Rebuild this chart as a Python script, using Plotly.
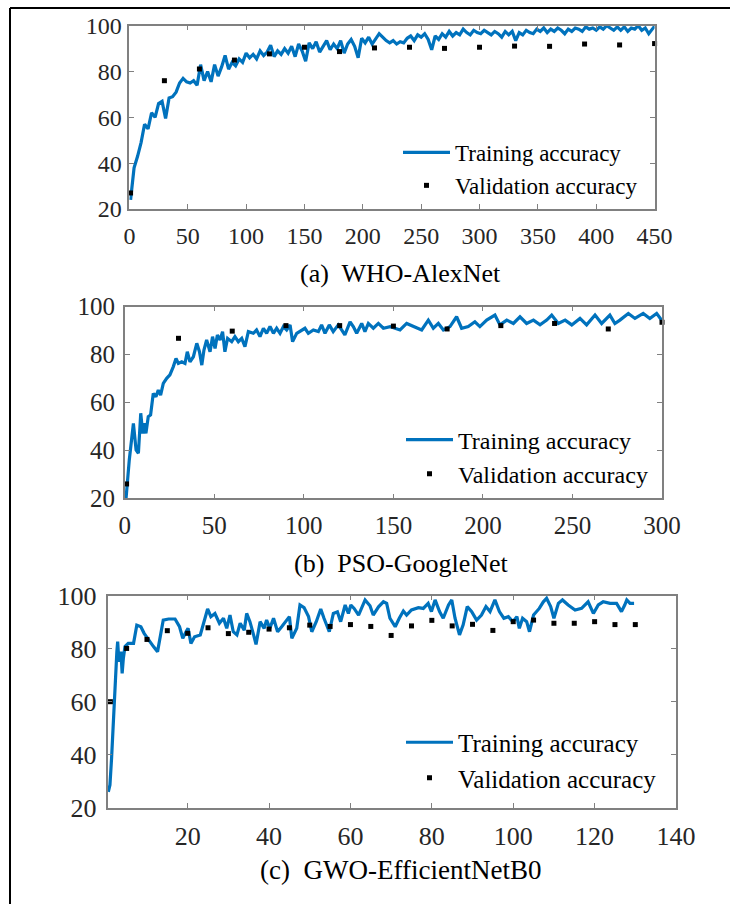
import plotly.graph_objects as go

# ---------------- Data ----------------
# (a) WHO-AlexNet
a_train_iter = list(range(1, 449, 3)) + [450]
a_train_acc = [
    24, 38, 43, 49, 57, 55, 62, 60, 66, 67,
    59.5, 68.5, 69, 71, 75, 77, 75.5, 75, 76, 74,
    83, 76, 80, 75.5, 83, 78, 82, 87, 81, 84,
    82.5, 85.5, 84, 88, 86, 87.5, 85.5, 89, 87, 88.5,
    91.5, 86.5, 89, 87.5, 90, 88, 91, 86.5, 92, 89,
    84.5, 92.5, 90, 93, 88.5, 91, 93.5, 89.5, 92, 90,
    93.5, 88, 92, 94, 91, 86, 94.5, 92.5, 95, 92,
    94.5, 96.5, 95, 93.5, 92.5, 93.5, 92, 93, 92.5, 94.5,
    95.5, 93.5, 96, 95, 96.5, 94, 89.5, 95.5, 94, 96.5,
    95, 97.5, 95.5, 97, 96, 98.5, 97, 96, 98, 97,
    96.5, 98, 97, 96, 97.5, 96.5, 95, 97.5, 96, 97.5,
    93.5, 97, 96, 98, 97, 96.5, 98.5, 97.5, 99, 97,
    98.5, 97.5, 99, 98, 96.5, 98.5, 97.5, 99, 98.5, 97.5,
    99.5, 98.5, 99, 98, 99.5, 98.5, 100, 99, 98, 99.5,
    98, 99.5, 97.5, 99, 98.5, 100, 98, 99, 96.5, 98.5,
    99.8,
]
a_val_iter = [1, 30, 60, 90, 120, 150, 180, 210, 240, 270, 300, 330, 360, 390, 420, 450]
a_val_acc = [27, 76, 81.1, 85, 87.7, 90.6, 88.7, 90.3, 90.6, 90.1, 90.6, 91.1, 91, 92, 91.6, 92.2]

# (b) PSO-GoogleNet
b_train_iter = [
    0.7, 2.5, 4.8, 6.3, 7.6, 8.9, 10, 10.9, 11.8, 13.1,
    14.4, 15.9, 17.4, 18.7, 20, 21.5, 23.4, 25.2, 27.1, 28.6,
    29.9, 31.8, 33.6, 34.9, 36.4, 38.3, 40.2, 41.7, 43, 44.2,
    45.7, 47.6, 49, 50.4, 51.7, 53.2, 54.6, 55.9, 57.4, 59.7,
    61.5, 63.4, 65.3, 67.1, 69, 71.8, 73.6, 75.5, 77.4, 79.2,
    81.1, 83, 84.8, 86.7, 88.6, 90.4, 92.3, 93.7, 96, 97.8,
    100.6, 102.5, 105.3, 108.1, 109.9, 111.8, 114.2, 116.4, 119.2, 121.1,
    122.9, 125.8, 127.6, 129.5, 132.3, 134.1, 136, 138.8, 141.6, 144.4,
    148.1, 150.9, 153.7, 157.4, 161.2, 165.8, 169.5, 172.3, 175.1, 177.9,
    181.6, 185.3, 188.1, 191.8, 195.5, 198.3, 202.1, 206.7, 209.5, 213.3,
    217, 220.7, 224.4, 228.2, 231.9, 235.6, 238.4, 242.1, 245.9, 249.6,
    254.2, 257.9, 262.6, 266.3, 270.9, 273.7, 276.5, 281.2, 284.9, 289.5,
    293.2, 297, 299.7,
]
b_train_acc = [
    20, 36, 51.3, 40.2, 38.8, 55.5, 47.1, 51.3, 47.1, 54.1,
    54.8, 63.8, 62.4, 65.2, 63.1, 68, 70.1, 71.5, 75, 78.4,
    76.3, 77, 76.3, 81.2, 77, 79.1, 84.7, 81.2, 75.6, 81.9,
    86.1, 81.2, 87.5, 82.6, 88.2, 86.1, 89.6, 81.2, 86.8, 85.4,
    87.5, 85.4, 86.8, 83.3, 89.6, 88.9, 90.3, 87.5, 91, 88.9,
    91.7, 88.9, 91, 88.9, 91.7, 90.3, 92.4, 85.4, 88.9, 89.6,
    91, 88.9, 90.3, 89.6, 92.4, 88.9, 92.4, 89.6, 92.4, 90.3,
    88.2, 93.7, 91.7, 88.9, 93, 89.6, 93, 91, 93, 91,
    91.7, 91, 90.3, 93, 91.7, 90.3, 94.4, 91, 93, 90.3,
    91.7, 95.8, 91, 91.7, 93.7, 91.7, 94.4, 96.5, 92.4, 94.4,
    93, 95.8, 93, 94.4, 92.4, 94.4, 96.5, 93, 94.4, 92.4,
    95.1, 92.4, 96.5, 93, 96.5, 93, 94.4, 97.2, 95.1, 97.2,
    95.1, 97.2, 94.4,
]
b_val_iter = [1, 30, 60, 90, 120, 150, 180, 210, 240, 270, 300]
b_val_acc = [26, 86.8, 89.8, 92.1, 92.1, 91.9, 90.7, 92.1, 93, 90.7, 93.5]

# (c) GWO-EfficientNetB0
c_train_iter = [
    0.5, 0.9, 1.3, 1.6, 1.9, 2.2, 2.6, 2.8, 3.1, 3.6,
    3.9, 4.2, 4.6, 5.4, 6.7, 7.5, 8.5, 9.3, 10.4, 11.6,
    12.6, 13.2, 14.0, 15.3, 16.9, 18.0, 18.8, 19.6, 20.1, 20.8,
    21.7, 23.1, 23.9, 24.9, 25.7, 26.7, 27.8, 28.8, 29.6, 30.4,
    31.2, 32.1, 32.9, 33.9, 34.5, 35.3, 36.2, 36.8, 37.8, 38.8,
    39.4, 40.2, 41.1, 42.1, 43.1, 44.3, 45.0, 45.6, 46.8, 47.6,
    48.6, 49.7, 50.5, 51.6, 52.7, 53.5, 54.8, 55.8, 56.8, 57.6,
    58.7, 59.5, 60.1, 60.9, 62.0, 63.6, 64.8, 65.6, 66.9, 68.1,
    68.9, 69.7, 71.0, 72.0, 73.0, 73.8, 75.0, 76.7, 77.9, 79.1,
    79.9, 80.8, 81.9, 82.8, 84.1, 84.9, 85.7, 86.8, 87.7, 88.7,
    89.8, 91.0, 92.2, 93.3, 94.3, 95.5, 96.6, 97.7, 98.8, 99.9,
    100.9, 101.5, 102.3, 103.3, 104.0, 105.0, 106.4, 107.4, 108.2, 109.2,
    110.0, 111.1, 112.1, 113.5, 115.2, 116.8, 118.4, 119.7, 120.9, 122.1,
    123.8, 125.4, 126.6, 127.4, 127.9, 128.7, 129.7,
]
c_train_acc = [
    26, 28.6, 38.6, 48.7, 60, 67.6, 78.9, 82.7, 75.1, 78.9,
    70.7, 76.4, 80.8, 82, 82, 88.9, 88.3, 85.8, 83.3, 80.8,
    78.9, 83.9, 90.8, 91.2, 91.2, 88.3, 83.9, 86.4, 87.7, 82,
    84.5, 85.2, 89.6, 95, 92.1, 93.3, 89.6, 91.5, 87.7, 92.7,
    86.4, 85.2, 89.6, 87, 93.3, 90.2, 85.2, 81.6, 90.2, 87.7,
    90.8, 87.7, 91.5, 86.4, 88.3, 90.8, 92.1, 83.9, 87.7, 96.5,
    95.5, 92.1, 86.4, 90.2, 95, 91.5, 86.4, 93.3, 93.9, 90.2,
    96.5, 93.3, 96.5, 95.2, 92.7, 98.4, 96.2, 92.7, 95.8, 97.7,
    97.1, 91.5, 88.3, 91.5, 94.2, 92.7, 94.6, 95.5, 95.2, 97.1,
    94, 98.4, 94, 91.5, 96.5, 98.4, 91.5, 85.2, 89, 95.9,
    94, 90.8, 92.7, 95.9, 94, 98.4, 94, 91.5, 92.1, 90.2,
    92.1, 87.7, 91.5, 90.2, 86.4, 92.7, 95.2, 97.7, 99, 95.9,
    91.5, 97.1, 98.4, 96.5, 94.6, 95.2, 97.7, 93.3, 96.5, 97.7,
    97.1, 97.1, 94, 96.5, 98.4, 97.1, 97.1,
]
c_val_iter = [1, 5, 10, 15, 20, 25, 30, 35, 40, 45, 50, 55, 60, 65, 70,
              75, 80, 85, 90, 95, 100, 105, 110, 115, 120, 125, 130]
c_val_acc = [60, 80.1, 83.5, 86.8, 85.8, 87.9, 85.7, 86.2, 87.4, 87.9, 88.9, 88.4, 89.1, 88.4, 85,
             88.6, 90.7, 88.6, 89.2, 86.9, 90.2, 90.8, 89.6, 89.6, 90.2, 89.1, 89.1]

titles = ["(a)  WHO-AlexNet", "(b)  PSO-GoogleNet", "(c)  GWO-EfficientNetB0"]
y_ticks = [20, 40, 60, 80, 100]
a_x_ticks = [0, 50, 100, 150, 200, 250, 300, 350, 400, 450]
b_x_ticks = [0, 50, 100, 150, 200, 250, 300]
c_x_ticks = [20, 40, 60, 80, 100, 120, 140]

# ---------------- Figure ----------------
W, H = 730, 904
FONT = "Liberation Serif"
BLUE = "#0072BD"
AXC = "#808080"
TXT = "#262626"

def px_x(p):
    return p / W

def px_y(p):
    return 1 - p / H

panels = [
    dict(train=(a_train_iter, a_train_acc), val=(a_val_iter, a_val_acc),
         xd=(129.4, 654.6), yd=(209, 25.7), xr=[0, 450], xt=a_x_ticks,
         tick=24, leg=23, tit=26, legx=398, legy=169, title_y=273, title_x=400, ysd=1),
    dict(train=(b_train_iter, b_train_acc), val=(b_val_iter, b_val_acc),
         xd=(124.8, 662), yd=(498.3, 306.7), xr=[0, 300], xt=b_x_ticks,
         tick=25, leg=24, tit=26, legx=401, legy=457, title_y=563, title_x=401, ysd=3),
    dict(train=(c_train_iter, c_train_acc), val=(c_val_iter, c_val_acc),
         xd=(107.5, 676), yd=(807.7, 595.7), xr=[0.3, 140], xt=c_x_ticks,
         tick=26, leg=25, tit=27, legx=401, legy=760, title_y=870, title_x=400, ysd=4),
]

fig = go.Figure()
layout = dict(
    width=W, height=H, margin=dict(l=0, r=0, t=0, b=0),
    paper_bgcolor="white", plot_bgcolor="white",
    font=dict(family=FONT, color=TXT), showlegend=True,
)
annotations = []
for i, p in enumerate(panels):
    n = "" if i == 0 else str(i + 1)
    legname = "legend" + n
    fig.add_trace(go.Scatter(
        x=p["train"][0], y=p["train"][1], mode="lines", name="Training accuracy",
        line=dict(color=BLUE, width=3.2), xaxis="x" + n, yaxis="y" + n, legend=legname,
    ))
    fig.add_trace(go.Scatter(
        x=p["val"][0], y=p["val"][1], mode="markers", name="Validation accuracy",
        marker=dict(symbol="square", color="black", size=5), xaxis="x" + n, yaxis="y" + n,
        legend=legname, cliponaxis=False,
    ))
    common = dict(showline=True, linecolor=AXC, linewidth=1.5, mirror="ticks",
                  ticks="inside", ticklen=5, tickcolor=AXC, tickwidth=1,
                  showgrid=False, zeroline=False, automargin=False)
    layout["xaxis" + n] = dict(
        domain=[px_x(p["xd"][0]), px_x(p["xd"][1])], range=p["xr"],
        tickvals=p["xt"], ticktext=[str(t) for t in p["xt"]],
        tickfont=dict(size=p["tick"], family=FONT, color=TXT),
        anchor="y" + n, ticklabelstandoff=4, **common)
    layout["yaxis" + n] = dict(
        domain=[px_y(p["yd"][0]), px_y(p["yd"][1])], range=[20, 100],
        tickvals=y_ticks, ticktext=[str(t) for t in y_ticks],
        tickfont=dict(size=p["tick"], family=FONT, color=TXT),
        anchor="x" + n, ticklabelstandoff=p["ysd"], **common)
    layout[legname] = dict(
        x=px_x(p["legx"]), y=px_y(p["legy"]), xanchor="left", yanchor="middle",
        bgcolor="rgba(0,0,0,0)", borderwidth=0, itemwidth=47,
        font=dict(size=p["leg"], family=FONT, color="black"), tracegroupgap=0,
    )
    annotations.append(dict(
        text=titles[i], x=px_x(p["title_x"]), y=px_y(p["title_y"]), xref="paper", yref="paper",
        xanchor="center", yanchor="middle", showarrow=False,
        font=dict(size=p["tit"], family=FONT, color="black"),
    ))

layout["annotations"] = annotations
layout["shapes"] = [
    dict(type="line", xref="paper", yref="paper", x0=px_x(10), x1=1, y0=px_y(8), y1=px_y(8),
         line=dict(color="black", width=2)),
    dict(type="line", xref="paper", yref="paper", x0=px_x(10), x1=px_x(10), y0=px_y(8), y1=0,
         line=dict(color="black", width=2)),
]
fig.update_layout(**layout)
fig.write_html(
    "out.html",
    config={"displayModeBar": False},
    post_script="document.body.style.margin='0';document.body.style.overflow='hidden';",
)
